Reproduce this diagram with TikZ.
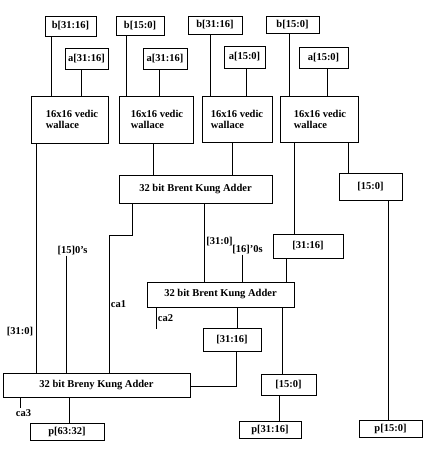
\documentclass[tikz,border=0pt]{standalone}
\usepackage{fontspec}
\setmainfont{Liberation Serif}
\begin{document}
\begin{tikzpicture}[x=1pt,y=-1pt,
  every node/.style={font=\bfseries\fontsize{10.5}{11}\selectfont},
  box/.style={draw,line width=0.9pt,inner sep=0pt,minimum width=#1},
  vbox/.style={draw,line width=0.9pt,inner sep=0pt,align=left,minimum height=46pt,minimum width=#1},
  lbl/.style={inner sep=0pt},
  wire/.style={line width=0.9pt}]
\useasboundingbox (0,0) rectangle (437,456);
% inputs
\node[box=51pt,minimum height=20pt] (b1) at (70.5,26) {b[31:16]};
\node[box=43pt,minimum height=21pt] (a1) at (86.5,58.5) {a[31:16]};
\node[box=48pt,minimum height=19pt] (b2) at (140,25.5) {b[15:0]};
\node[box=44pt,minimum height=21pt] (a2) at (165,58.5) {a[31:16]};
\node[box=54pt,minimum height=18pt] (b3) at (215,25) {b[31:16]};
\node[box=41pt,minimum height=22pt] (a3) at (244.5,57) {a[15:0]};
\node[box=53pt,minimum height=17pt] (b4) at (292.5,25) {b[15:0]};
\node[box=49pt,minimum height=21pt] (a4) at (323.5,57.5) {a[15:0]};
% vedic multipliers
\node[vbox=77pt,minimum height=47pt] (v1) at (69.5,119.5) {\hspace*{5pt}16x16 vedic\\\hspace*{5pt}wallace};
\node[vbox=74pt,minimum height=47pt] (v2) at (156,119.5) {\hspace*{2pt}16x16 vedic\\\hspace*{2pt}wallace};
\node[vbox=70pt] (v3) at (237,119) {16x16 vedic\\wallace};
\node[vbox=78pt] (v4) at (319,119) {\hspace*{2pt}16x16 vedic\\\hspace*{2pt}wallace};
% adders and slices
\node[box=153pt,minimum height=28pt] (bk1) at (195.5,189) {32 bit Brent Kung Adder};
\node[box=63pt,minimum height=27pt] (r150) at (370.5,186.5) {[15:0]};
\node[box=70pt,minimum height=24pt] (m3116) at (308,246) {[31:16]};
\node[box=147pt,minimum height=25pt] (bk2) at (220.5,294.5) {32 bit Brent Kung Adder};
\node[box=58pt,minimum height=23pt] (l3116) at (232,339.5) {[31:16]};
\node[box=55pt,minimum height=21pt] (l150) at (288.5,384.5) {[15:0]};
\node[box=187pt,minimum height=24pt] (bk3) at (96.5,385) {32 bit Breny Kung Adder};
\node[box=74pt,minimum height=17pt] (p6332) at (67,431.5) {p[63:32]};
\node[box=62pt,minimum height=17pt] (p3116) at (270,429.5) {p[31:16]};
\node[box=63pt,minimum height=17pt] (p150) at (390.5,428.5) {p[15:0]};
% labels
\node[lbl] (z15) at (72.5,251) {[15]0's};
\node[lbl] (z16) at (247.5,250) {[16]'0s};
\node[lbl] (s310a) at (219.5,242) {[31:0]};
\node[lbl] (ca1) at (118.5,304) {ca1};
\node[lbl] (ca2) at (165.5,318) {ca2};
\node[lbl] (s310b) at (20,332) {[31:0]};
\node[lbl] (ca3) at (23.5,413) {ca3};
\coordinate (ca2end) at (156,329);
\coordinate (ca3end) at (20,408);
% wires from inputs
\draw[wire] (b1.south -| 51,0) -- (v1.north -| 51,0);
\draw[wire] (a1.south -| 81,0) -- (v1.north -| 81,0);
\draw[wire] (b2.south -| 126,0) -- (v2.north -| 126,0);
\draw[wire] (a2.south -| 159,0) -- (v2.north -| 159,0);
\draw[wire] (b3.south -| 210,0) -- (v3.north -| 210,0);
\draw[wire] (a3.south -| 246,0) -- (v3.north -| 246,0);
\draw[wire] (b4.south -| 289,0) -- (v4.north -| 289,0);
\draw[wire] (a4.south -| 327,0) -- (v4.north -| 327,0);
% wires from multipliers
\draw[wire] (v1.south -| 36,0) -- (bk3.north -| 36,0);
\draw[wire] (v2.south -| 153,0) -- (bk1.north -| 153,0);
\draw[wire] (v3.south -| 232,0) -- (bk1.north -| 232,0);
\draw[wire] (v4.south -| 294,0) -- (m3116.north -| 294,0);
\draw[wire] (v4.south -| 348,0) -- (r150.north -| 348,0);
\draw[wire] (r150.south -| 388,0) -- (p150.north -| 388,0);
% adder wires
\draw[wire] (bk1.south -| 132,0) -- (132,235) -- (109,235) -- (bk3.north -| 109,0);
\draw[wire] (bk1.south -| 204,0) -- (bk2.north -| 204,0);
\draw[wire] (m3116.south -| 286,0) -- (bk2.north -| 286,0);
\draw[wire] (z16.south -| 242,0) -- (bk2.north -| 242,0);
\draw[wire] (z15.south -| 66,0) -- (bk3.north -| 66,0);
\draw[wire] (bk2.south -| ca2end) -- (ca2end);
\draw[wire] (bk2.south -| 237,0) -- (l3116.north -| 237,0);
\draw[wire] (bk2.south -| 282,0) -- (l150.north -| 282,0);
\draw[wire] (l3116.south -| 236,0) -- (236,386) -- (bk3.east |- 0,386);
\draw[wire] (l150.south -| 279,0) -- (p3116.north -| 279,0);
\draw[wire] (bk3.south -| 69,0) -- (p6332.north -| 69,0);
\draw[wire] (bk3.south -| ca3end) -- (ca3end);
\end{tikzpicture}
\end{document}
